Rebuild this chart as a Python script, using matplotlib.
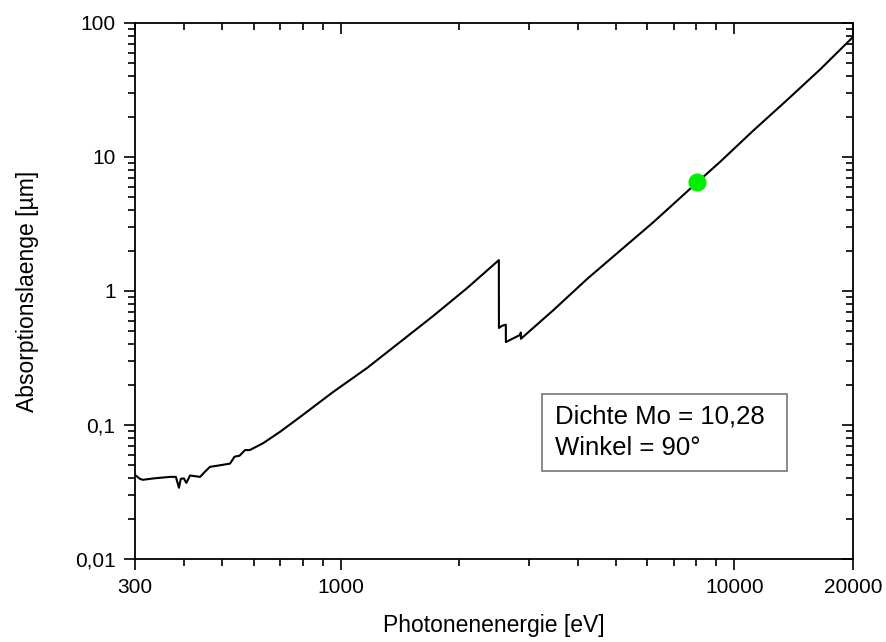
import matplotlib
matplotlib.use("Agg")
import matplotlib.pyplot as plt
from matplotlib.patches import Rectangle
from matplotlib.ticker import FixedLocator, NullFormatter, LogLocator

plt.rcParams["font.family"] = ["Liberation Sans", "DejaVu Sans"]

# Absorptionslaenge von Mo ueber Photonenenergie
energie = [300, 309, 314, 336, 368, 381, 388, 392, 399, 405, 414, 439, 451,
           465, 492, 523, 537, 553, 571, 587, 634, 701, 788, 955, 1165, 1414,
           1715, 2092, 2520, 2521, 2568, 2625, 2626, 2852, 2866, 2867, 3467,
           4223, 5122, 6213, 8080, 9192, 11150, 13575, 16500, 20000]
laenge = [0.0424, 0.0396, 0.039, 0.040, 0.041, 0.041, 0.034, 0.0396, 0.040,
          0.037, 0.042, 0.041, 0.0446, 0.0487, 0.050, 0.0515, 0.058, 0.059,
          0.065, 0.065, 0.073, 0.089, 0.1148, 0.176, 0.266, 0.416, 0.650,
          1.05, 1.70, 0.53, 0.55, 0.56, 0.416, 0.47, 0.49, 0.44, 0.72,
          1.23, 2.0, 3.25, 6.55, 9.2, 15.7, 26.5, 45.0, 78.6]

# markierter Punkt
punkt_e = [8048]
punkt_l = [6.55]

x_ticks = [300, 1000, 10000, 20000]
x_ticklabels = ["300", "1000", "10000", "20000"]
x_minor = [400, 500, 600, 700, 800, 900, 2000, 3000, 4000, 5000, 6000,
           7000, 8000, 9000]
y_ticks = [0.01, 0.1, 1, 10, 100]
y_ticklabels = ["0,01", "0,1", "1", "10", "100"]

fig = plt.figure(figsize=(8.87, 6.42), dpi=100)
ax = fig.add_axes([135 / 887, 1 - 559 / 642, (853 - 135) / 887, (559 - 23) / 642])

ax.plot(energie, laenge, color="black", lw=1.5)
ax.plot(punkt_e, punkt_l, "o", color="#00ee00", ms=12, mec="#00ee00")

ax.set_xscale("log")
ax.set_yscale("log")
ax.set_xlim(300, 20000)
ax.set_ylim(0.01, 100)

ax.xaxis.set_major_locator(FixedLocator(x_ticks))
ax.set_xticklabels(x_ticklabels)
ax.xaxis.set_minor_locator(FixedLocator(x_minor))
ax.xaxis.set_minor_formatter(NullFormatter())
ax.yaxis.set_major_locator(FixedLocator(y_ticks))
ax.set_yticklabels(y_ticklabels)
ax.yaxis.set_minor_locator(LogLocator(base=10, subs=range(2, 10), numticks=20))
ax.yaxis.set_minor_formatter(NullFormatter())

ax.tick_params(which="both", direction="out", top=False, right=False,
               labelsize=15, width=1.2)
ax.tick_params(which="major", length=8, pad=6)
ax.tick_params(which="minor", length=5)

# innen liegende Ticks oben und rechts
top = ax.secondary_xaxis("top")
top.xaxis.set_major_locator(FixedLocator(x_ticks))
top.xaxis.set_minor_locator(FixedLocator(x_minor))
right = ax.secondary_yaxis("right")
right.yaxis.set_major_locator(FixedLocator(y_ticks))
right.yaxis.set_minor_locator(LogLocator(base=10, subs=range(2, 10), numticks=20))
for twin, axis in ((top, top.xaxis), (right, right.yaxis)):
    axis.set_major_formatter(NullFormatter())
    axis.set_minor_formatter(NullFormatter())
    twin.tick_params(which="both", direction="in", width=1.2)
    twin.tick_params(which="major", length=8)
    twin.tick_params(which="minor", length=5)
    for s in twin.spines.values():
        s.set_visible(False)

for s in ax.spines.values():
    s.set_linewidth(1.3)

ax.set_xlabel("Photonenenergie [eV]", fontsize=16.5, labelpad=12)
ax.set_ylabel("Absorptionslaenge [µm]", fontsize=16.5, labelpad=26)

# Infobox
ax.add_patch(Rectangle((0.567, 0.164), 0.341, 0.144, transform=ax.transAxes,
                       fc="white", ec="#777777", lw=1.2, zorder=3))
ax.text(0.585, 0.265, "Dichte Mo = 10,28", transform=ax.transAxes,
        fontsize=18.5, va="center", ha="left", zorder=4)
ax.text(0.585, 0.207, "Winkel = 90°", transform=ax.transAxes,
        fontsize=18.5, va="center", ha="left", zorder=4)

fig.savefig("out.png", dpi=100)
